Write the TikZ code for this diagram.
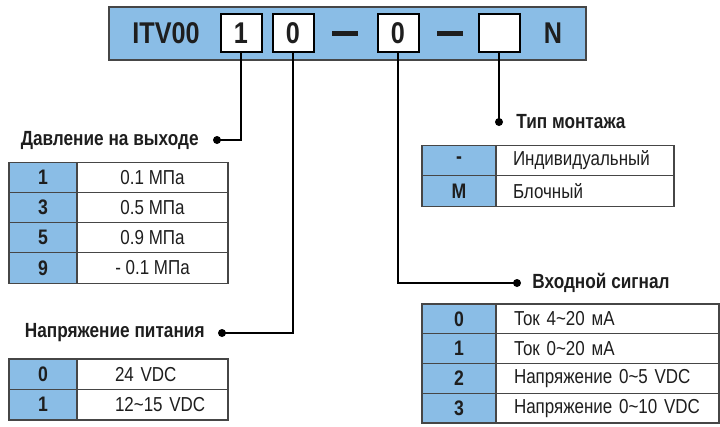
\documentclass[tikz,border=0pt]{standalone}
\usepackage{fontspec}
\setmainfont{Liberation Sans}[FakeStretch=0.84]
\usetikzlibrary{positioning}

\definecolor{bandblue}{RGB}{138,189,230}
\definecolor{gridgray}{RGB}{70,70,70}
\definecolor{ink}{RGB}{30,30,30}

\tikzset{
  band/.style={draw=gridgray,line width=1.4pt,fill=bandblue},
  codebox/.style={draw=black,line width=2pt,fill=white,minimum width=41pt,
                  minimum height=38pt,inner sep=0pt,text=ink,
                  font=\fontsize{30}{32}\selectfont\bfseries},
  codetext/.style={inner sep=0pt,text=ink,font=\fontsize{30}{32}\selectfont\bfseries},
  lead/.style={draw=black,line width=2.2pt},
  leaddot/.style={circle,fill=black,inner sep=0pt,minimum size=8pt},
  title/.style={text=ink,inner sep=2pt,font=\fontsize{20.5}{23}\selectfont\bfseries},
  keycell/.style={draw=gridgray,line width=1.2pt,fill=bandblue,minimum width=68pt,
                  text=ink,font=\fontsize{21}{23}\selectfont\bfseries},
  valcell/.style={draw=gridgray,line width=1.2pt,fill=white,text=ink,
                  font=\fontsize{20.2}{22}\selectfont},
}

\begin{document}
\begin{tikzpicture}[x=1pt,y=-1pt]
  \useasboundingbox (0,0) rectangle (720,426);

  % model code
  \draw[band] (109,7) rectangle (586,60);
  \node[codetext] (itv) at (166,33) {ITV00};
  \node[codebox]  (b1)  at (241,33) {1};
  \node[codebox]  (b2)  at (293,33) {0};
  \node[codetext] (s1)  at (345,33.5) {\rule{26pt}{4.5pt}};
  \node[codebox]  (b3)  at (398,33) {0};
  \node[codetext] (s2)  at (450,33.5) {\rule{26pt}{4.5pt}};
  \node[codebox]  (b4)  at (499,33) {};
  \node[codetext] (nn)  at (553,33) {N};

  % leader dots and titles
  \node[leaddot] (d1) at (217,140) {};
  \node[leaddot] (d2) at (222,333) {};
  \node[leaddot] (d3) at (517,283) {};
  \node[leaddot] (d4) at (499,122) {};

  \node[title] (t1) [left=12pt of d1]  {Давление на выходе};
  \node[title] (t2) [left=11pt of d2]  {Напряжение питания};
  \node[title] (t3) [right=9pt of d3]  {Входной сигнал};
  \node[title] (t4) [right=11pt of d4] {Тип монтажа};

  \draw[lead] (b1.south) |- (d1.center);
  \draw[lead] (b2.south) |- (d2.center);
  \draw[lead] (b3.south) |- (d3.center);
  \draw[lead] (b4.south) -- (d4.center);

  % output pressure
  \foreach \k/\v [count=\i] in {1/0.1 МПа,3/0.5 МПа,5/0.9 МПа,9/- 0.1 МПа}
  {
    \node[keycell,minimum height=30.25pt] (pk\i) at (43,{147+30.25*\i}) {\k};
    \node[valcell,minimum height=30.25pt,minimum width=151pt]
      (pv\i) at (152.5,{147+30.25*\i}) {\v};
  }

  % supply voltage
  \foreach \k/\v [count=\i] in {0/24 VDC,1/12\textasciitilde15 VDC}
  {
    \node[keycell,minimum height=30.5pt] (uk\i) at (43,{343.75+30.5*\i}) {\k};
    \node[valcell,minimum height=30.5pt,text width=113pt,inner xsep=19pt,align=left]
      (uv\i) at (152.5,{343.75+30.5*\i}) {\hspace*{19pt}\v};
  }

  % mounting
  \foreach \k/\v [count=\i] in {-/Индивидуальный,M/Блочный}
  {
    \node[keycell,minimum width=74pt,minimum height=30.5pt] (mk\i) at (459,{130+30.5*\i}) {\k};
    \node[valcell,minimum height=30.5pt,text width=144pt,inner xsep=17pt,align=left]
      (mv\i) at (585,{130+30.5*\i}) {\v};
  }

  % input signal
  \foreach \k/\v [count=\i] in {0/Ток 4\textasciitilde20 мА,1/Ток 0\textasciitilde20 мА,
                                2/Напряжение 0\textasciitilde5 VDC,3/Напряжение 0\textasciitilde10 VDC}
  {
    \node[keycell,minimum width=74pt,minimum height=29.75pt] (sk\i) at (459,{289.1+29.75*\i}) {\k};
    \node[valcell,minimum height=29.75pt,text width=187pt,inner xsep=18pt,align=left]
      (sv\i) at (607.5,{289.1+29.75*\i}) {\v};
  }
\end{tikzpicture}
\end{document}
